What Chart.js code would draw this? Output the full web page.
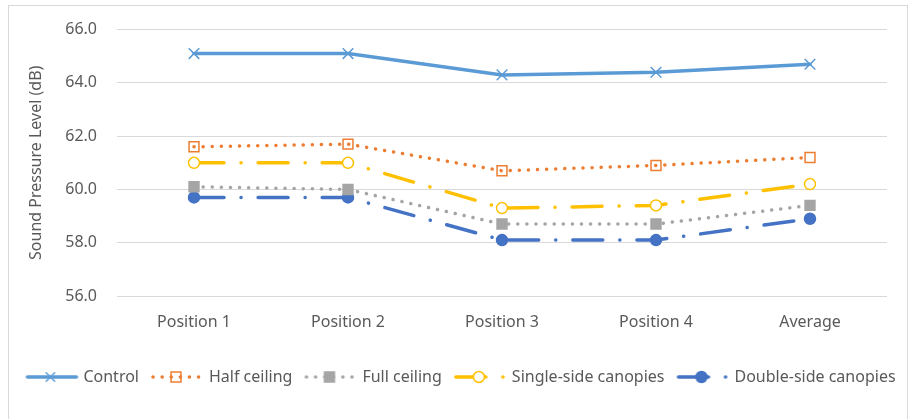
<!DOCTYPE html>
<html lang="en">
    <head>
        <meta charset="UTF-8" />
        <title>Sound Pressure Level</title>
        <style>
            html, body {
                margin: 0;
                overflow: hidden;
                background: #ffffff;
            }
            .chartFrame {
                position: absolute;
                left: 8px;
                top: 5px;
                width: 900px;
                height: 430px;
                border: 1px solid #d9d9d9;
                box-sizing: border-box;
            }
            .chartBox {
                position: absolute;
                left: 0;
                top: 0;
                width: 909px;
                height: 419px;
            }
        </style>
    </head>
    <body>
        <div class="chartFrame"></div>
        <div class="chartBox">
            <canvas id="splChart" width="909" height="419"></canvas>
        </div>

        <script src="https://cdn.jsdelivr.net/npm/chart.js"></script>

        <script>
            // measured levels per position
            const categories = ["Position 1", "Position 2", "Position 3", "Position 4", "Average"];
            const control = [65.1, 65.1, 64.3, 64.4, 64.7];
            const halfCeiling = [61.6, 61.7, 60.7, 60.9, 61.2];
            const fullCeiling = [60.1, 60.0, 58.7, 58.7, 59.4];
            const singleSide = [61.0, 61.0, 59.3, 59.4, 60.2];
            const doubleSide = [59.7, 59.7, 58.1, 58.1, 58.9];

            // y axis range and step
            const yMin = 56;
            const yMax = 66;
            const yStep = 2;

            const textColor = "#595959";
            const fontFamily = "'Noto Sans', sans-serif";

            const dotted = [0.1, 9];
            const dashDot = [30, 17, 0.1, 17];

            const seriesList = [
                { label: "Control", data: control, color: "#5B9BD5", dash: [],
                  pointStyle: "crossRot", radius: 7.5, fill: "#5B9BD5" },
                { label: "Half ceiling", data: halfCeiling, color: "#ED7D31", dash: dotted,
                  pointStyle: "rect", radius: 7, fill: "rgba(0,0,0,0)" },
                { label: "Full ceiling", data: fullCeiling, color: "#A5A5A5", dash: dotted,
                  pointStyle: "rect", radius: 7, fill: "#A5A5A5" },
                { label: "Single-side canopies", data: singleSide, color: "#FFC000", dash: dashDot,
                  pointStyle: "circle", radius: 5.5, fill: "#ffffff" },
                { label: "Double-side canopies", data: doubleSide, color: "#4472C4", dash: dashDot,
                  pointStyle: "circle", radius: 5.5, fill: "#4472C4" },
            ];

            // legend symbol: short line with the marker in the middle.
            // the image is a bit wider than the legend box it is centred on
            const boxW = 50;
            function legendSample(s) {
                const c = document.createElement("canvas");
                c.width = 58;
                c.height = 16;
                const ctx = c.getContext("2d");
                ctx.strokeStyle = s.color;
                ctx.lineWidth = 3.5;
                ctx.lineCap = "round";
                ctx.setLineDash(s.dash);
                ctx.beginPath();
                ctx.moveTo(6, 8);
                ctx.lineTo(55, 8);
                ctx.stroke();
                ctx.setLineDash([]);
                ctx.fillStyle = s.fill;
                ctx.strokeStyle = s.color;
                ctx.lineWidth = 1.5;
                Chart.helpers.drawPoint(ctx, {
                    pointStyle: s.pointStyle,
                    radius: s.pointStyle === "crossRot" ? 6 : s.radius,
                    rotation: 0,
                    borderWidth: 1.5,
                }, 29, 8);
                return c;
            }

            const samples = seriesList.map(legendSample);

            const datasets = seriesList.map(function (s) {
                return {
                    label: s.label,
                    data: s.data,
                    borderColor: s.color,
                    backgroundColor: s.color,
                    borderWidth: 3.5,
                    borderDash: s.dash,
                    borderCapStyle: "round",
                    tension: 0,
                    pointStyle: s.pointStyle,
                    pointRadius: s.radius,
                    pointHoverRadius: s.radius,
                    pointBorderWidth: 1.5,
                    pointBorderColor: s.color,
                    pointBackgroundColor: s.fill,
                };
            });

            Chart.defaults.font.family = fontFamily;
            Chart.defaults.font.size = 16;
            Chart.defaults.color = textColor;

            const splChart = new Chart(document.getElementById("splChart"), {
                type: "line",
                data: {
                    labels: categories,
                    datasets: datasets,
                },
                options: {
                    responsive: false,
                    animation: false,
                    layout: {
                        padding: { left: 12, right: 0, top: 27, bottom: 24 },
                    },
                    plugins: {
                        tooltip: { enabled: false },
                        legend: {
                            position: "bottom",
                            labels: {
                                usePointStyle: true,
                                pointStyleWidth: boxW,
                                padding: 12,
                                color: textColor,
                                font: { size: 16 },
                                generateLabels: function (chart) {
                                    return chart.data.datasets.map(function (ds, i) {
                                        return {
                                            text: ds.label,
                                            pointStyle: samples[i],
                                            fontColor: textColor,
                                            hidden: false,
                                            datasetIndex: i,
                                            lineWidth: 0,
                                        };
                                    });
                                },
                            },
                        },
                    },
                    scales: {
                        x: {
                            offset: true,
                            grid: { display: false, drawTicks: false },
                            border: { display: false },
                            ticks: { padding: 17, color: textColor },
                            afterFit: function (scale) {
                                scale.height = 61;
                            },
                        },
                        y: {
                            min: yMin,
                            max: yMax,
                            grid: { color: "#d9d9d9", lineWidth: 1, drawTicks: false },
                            border: { display: false },
                            ticks: {
                                stepSize: yStep,
                                padding: 20,
                                color: textColor,
                                callback: function (v) {
                                    return Number(v).toFixed(1);
                                },
                            },
                            title: {
                                display: true,
                                text: "Sound Pressure Level (dB)",
                                color: textColor,
                                font: { size: 16 },
                                padding: { top: 14.4, bottom: 0 },
                            },
                            afterFit: function (scale) {
                                scale.width = 105;
                            },
                        },
                        // empty right-hand axis, only keeps the plot clear of the right edge
                        yRight: {
                            axis: "y",
                            position: "right",
                            grid: { display: false, drawTicks: false },
                            border: { display: false },
                            ticks: { display: false },
                            afterFit: function (scale) {
                                scale.width = 22;
                            },
                        },
                    },
                },
            });
        </script>
    </body>
</html>
